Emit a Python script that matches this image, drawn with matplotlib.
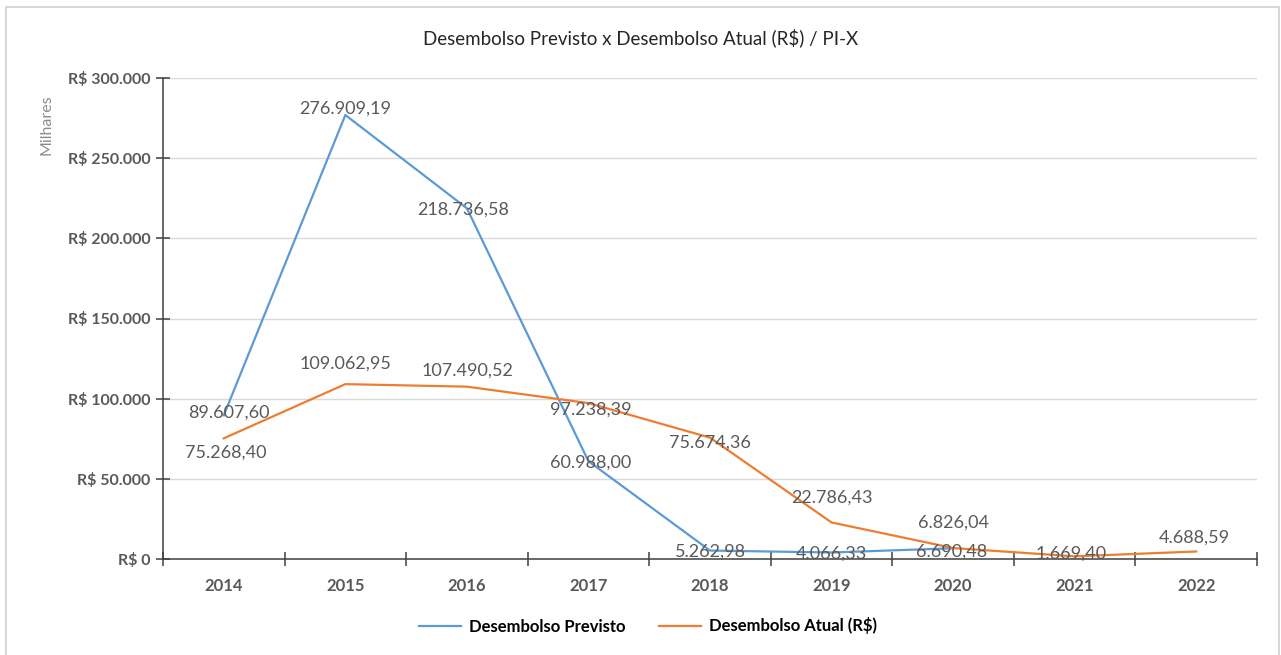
import numpy as np
import matplotlib.pyplot as plt
from matplotlib.patches import Rectangle
from matplotlib.ticker import FixedLocator, FuncFormatter

''' Desembolso previsto x atual, PI-X '''

anos = ["2014", "2015", "2016", "2017", "2018", "2019", "2020", "2021", "2022"]
previsto = [89607.60, 276909.19, 218736.58, 60988.00, 5262.98, 4066.33, 6690.48]
atual = [75268.40, 109062.95, 107490.52, 97238.39, 75674.36, 22786.43, 6826.04, 1669.40, 4688.59]

# deslocamento dos rotulos (px) em relacao ao ponto
off_previsto = [(5, 3), (0, 6), (-4, -1), (2, -1), (0, -1), (0, -1), (-2, -3)]
off_atual = [(2, -14), (0, 21), (1, 16), (2, -7), (0, -5), (0, 25), (0, 25), (-4, 3), (-2, 14)]

AZUL = '#5B9BD5'
LARANJA = '#ED7D31'
CINZA = '#595959'

plt.rcParams['font.family'] = ['Lato', 'DejaVu Sans']

fig = plt.figure(figsize=(12.81, 6.55), dpi=100)
ax = fig.add_axes([163/1281, 1 - 559/655, (1257-163)/1281, (559-78)/655])

x = np.arange(len(anos))
ax.plot(x[:len(previsto)], previsto, color=AZUL, lw=1.6, label='Desembolso Previsto')
ax.plot(x, atual, color=LARANJA, lw=1.6, label='Desembolso Atual (R$)')

def fmt_br(v):
  s = "{:,.2f}".format(v)
  return s.replace(",", "#").replace(".", ",").replace("#", ".")

for serie, offs in ((previsto, off_previsto), (atual, off_atual)):
  for i, v in enumerate(serie):
    dx, dy = offs[i]
    ax.annotate(fmt_br(v), (x[i], v), xytext=(dx*0.72, dy*0.72), textcoords='offset points',
                ha='center', va='center', fontsize=13, color=CINZA)

ax.set_xlim(-0.5, len(anos) - 0.5)
ax.set_ylim(0, 300000)
ax.yaxis.set_major_locator(FixedLocator(np.arange(0, 300001, 50000)))
ax.yaxis.set_major_formatter(FuncFormatter(lambda v, p: "R$ " + "{:,.0f}".format(v).replace(",", ".")))
ax.grid(axis='y', color='#d9d9d9', lw=1)
ax.set_axisbelow(True)

# ticks nas divisas das categorias, rotulos no centro
ax.xaxis.set_major_locator(FixedLocator(np.arange(-0.5, len(anos), 1.0)))
ax.xaxis.set_major_formatter(plt.NullFormatter())
ax.xaxis.set_minor_locator(FixedLocator(x))
ax.set_xticklabels(anos, minor=True)
ax.tick_params(axis='x', which='major', direction='inout', length=10, width=1.1, color='#404040')
ax.tick_params(axis='x', which='minor', length=0, pad=14)
ax.tick_params(axis='y', direction='inout', length=10, width=1.1, color='#404040', pad=4)
for lbl in ax.get_xticklabels(minor=True):
  lbl.set_fontweight('bold')
  lbl.set_fontsize(12)
  lbl.set_color(CINZA)
for lbl in ax.get_yticklabels():
  lbl.set_fontweight('bold')
  lbl.set_fontsize(11.5)
  lbl.set_color(CINZA)

for s in ('top', 'right'):
  ax.spines[s].set_visible(False)
for s in ('left', 'bottom'):
  ax.spines[s].set_color('#404040')
  ax.spines[s].set_linewidth(1.1)

fig.text(641/1281, 1 - 38/655, "Desembolso Previsto x Desembolso Atual (R$) / PI-X",
         ha='center', va='center', fontsize=13.5, color='#262626')
fig.text(47/1281, 1 - 125/655, "Milhares", rotation=90, ha='center', va='center',
         fontsize=11.5, color='#8c8c8c')

leg = fig.legend(loc='center', bbox_to_anchor=(648/1281, 1 - 626/655), ncol=2, frameon=False,
                 fontsize=12, handlelength=2.5, columnspacing=2.0, handletextpad=0.5)
for t in leg.get_texts():
  t.set_fontweight('bold')
  t.set_color('black')

fig.patches.append(Rectangle((6/1281, -0.05), (1279-6)/1281, 1.05 - 7/655, transform=fig.transFigure,
                             fill=False, edgecolor='#d0d0d0', lw=1.2))

fig.savefig('out.png', dpi=100)
